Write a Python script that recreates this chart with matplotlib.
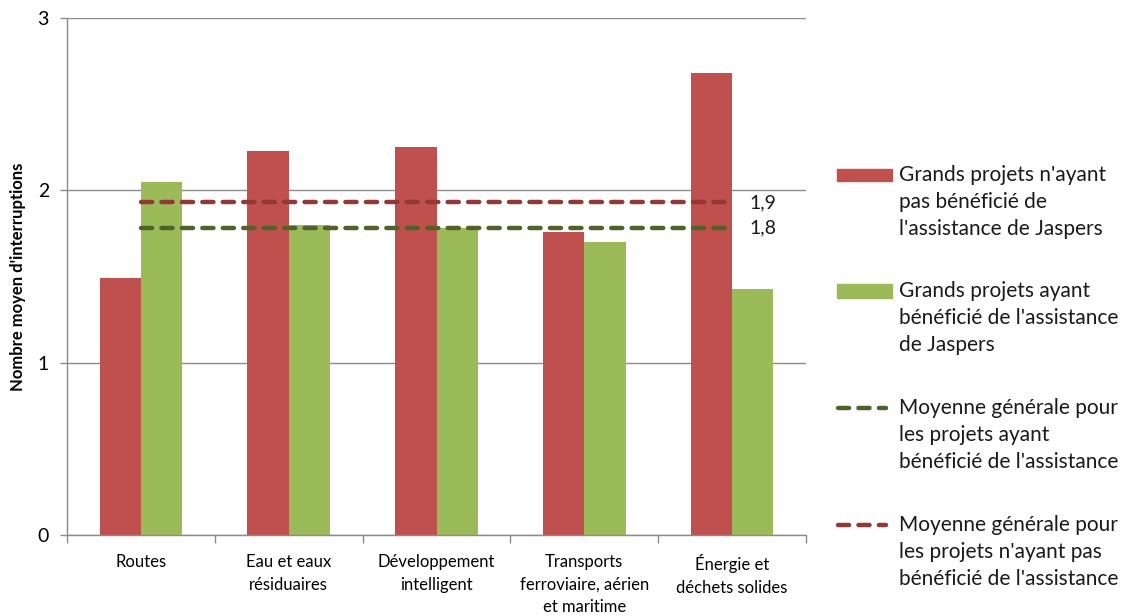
import matplotlib.pyplot as plt
from matplotlib.lines import Line2D
from matplotlib.patches import Rectangle
import numpy as np

plt.rcParams['font.family'] = ['Lato', 'DejaVu Sans']

categories = ['Routes', 'Eau et eaux\nrésiduaires', 'Développement\nintelligent',
              'Transports\nferroviaire, aérien\net maritime', 'Énergie et\ndéchets solides']
sans_jaspers = [1.49, 2.23, 2.25, 1.76, 2.68]
avec_jaspers = [2.05, 1.80, 1.78, 1.70, 1.43]
moyenne_sans = 1.93
moyenne_avec = 1.78

legend_labels = [
    "Grands projets n'ayant\npas bénéficié de\nl'assistance de Jaspers",
    "Grands projets ayant\nbénéficié de l'assistance\nde Jaspers",
    "Moyenne générale pour\nles projets ayant\nbénéficié de l'assistance",
    "Moyenne générale pour\nles projets n'ayant pas\nbénéficié de l'assistance",
]

RED = '#C0504D'
GREEN = '#9BBB59'
RED_DARK = '#953735'
GREEN_DARK = '#4F6228'
GRID = '#8C8C8C'

W, H = 1128, 616
fig = plt.figure(figsize=(W / 100, H / 100), dpi=100)
ax = fig.add_axes([67 / W, 1 - 535 / H, (806 - 67) / W, (535 - 18) / H])

x = np.arange(len(categories))
w = 0.28
ax.bar(x - w / 2, sans_jaspers, w, color=RED, zorder=2)
ax.bar(x + w / 2, avec_jaspers, w, color=GREEN, zorder=2)

dash = dict(lw=3.2, dashes=(2.5, 2.1), dash_capstyle='round', solid_capstyle='round')
ax.plot([x[0], x[-1]], [moyenne_sans] * 2, color=RED_DARK, zorder=3, **dash)
ax.plot([x[0], x[-1]], [moyenne_avec] * 2, color=GREEN_DARK, zorder=3, **dash)

for val in (moyenne_sans, moyenne_avec):
    ax.text(x[-1] + 0.12, val, f'{val:.1f}'.replace('.', ','),
            va='center', ha='left', fontsize=14, color='#1a1a1a')

ax.set_xlim(-0.5, len(categories) - 0.5)
ax.set_ylim(0, 3)
ax.set_yticks([0, 1, 2, 3])
ax.set_yticklabels(['0', '1', '2', '3'], fontsize=14)
ax.yaxis.grid(True, color=GRID, lw=1, zorder=0)
ax.set_axisbelow(True)

ax.set_xticks(x)
ax.set_xticklabels(categories, fontsize=12, linespacing=1.5)
ax.tick_params(axis='x', length=0, pad=14)
ax.set_xticks(np.arange(-0.5, len(categories)), minor=True)
ax.tick_params(axis='x', which='minor', length=6, color=GRID, width=1)
ax.tick_params(axis='y', length=5, color=GRID, width=1, pad=8)

for side in ('top', 'right'):
    ax.spines[side].set_visible(False)
for side in ('left', 'bottom'):
    ax.spines[side].set_color(GRID)
    ax.spines[side].set_linewidth(1)

ax.set_ylabel("Nombre moyen d'interruptions", fontsize=12, fontweight='bold', labelpad=8)

# hand-placed legend (pixel positions converted to figure fractions)
def fx(px):
    return px / W

def fy(py):
    return 1 - py / H

rows = [175, 291, 408, 525]
fig.patches.append(Rectangle((fx(837), fy(rows[0] + 6)), fx(55), 12 / H,
                             color=RED, transform=fig.transFigure, figure=fig))
fig.patches.append(Rectangle((fx(837), fy(rows[1] + 7)), fx(55), 14 / H,
                             color=GREEN, transform=fig.transFigure, figure=fig))
fig.lines.append(Line2D([fx(838), fx(886)], [fy(rows[2])] * 2, color=GREEN_DARK,
                        transform=fig.transFigure, figure=fig, **dash))
fig.lines.append(Line2D([fx(838), fx(886)], [fy(rows[3])] * 2, color=RED_DARK,
                        transform=fig.transFigure, figure=fig, **dash))
for row, label in zip(rows, legend_labels):
    fig.text(fx(899), fy(row - 10), label, ha='left', va='top', fontsize=15,
             linespacing=1.45, color='#1a1a1a')

fig.savefig('out.png', dpi=100)
